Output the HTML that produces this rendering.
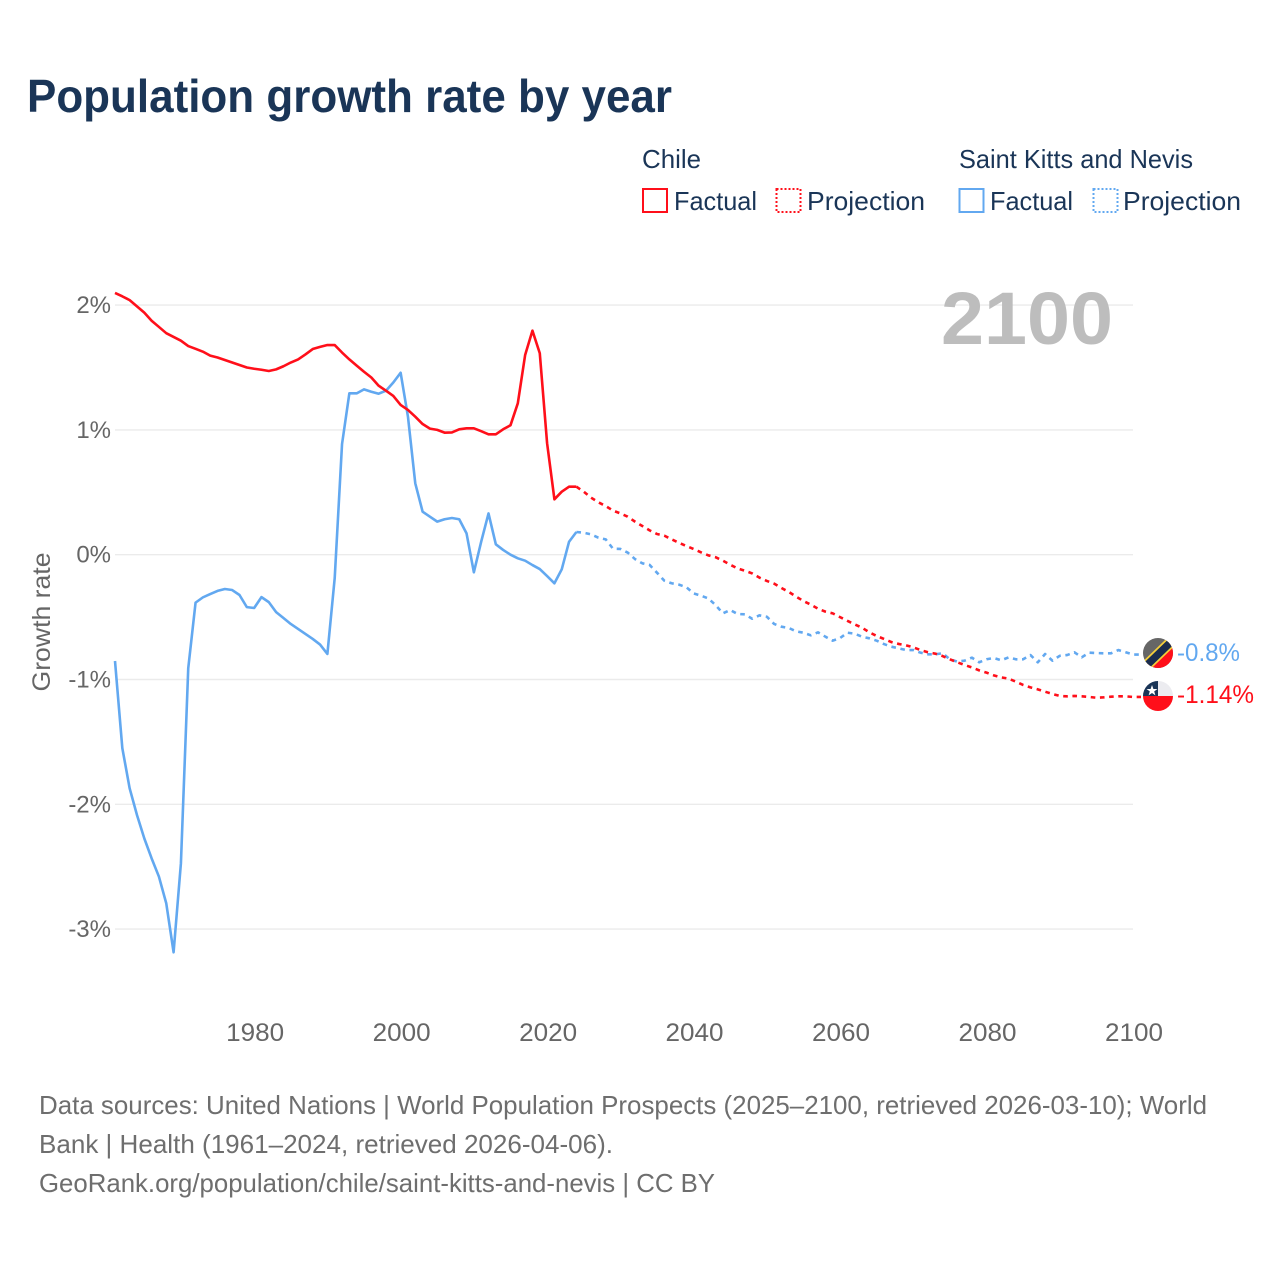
<!DOCTYPE html>
<html lang="en">
<head>
<meta charset="utf-8">
<title>Population growth rate by year</title>
<style>
html,body{margin:0;padding:0;background:#fff;width:1280px;height:1280px;overflow:hidden}
svg{display:block}
text{font-family:"Liberation Sans",sans-serif}
</style>
</head>
<body>
<svg id="chart" xmlns="http://www.w3.org/2000/svg" width="1280" height="1280" viewBox="0 0 1280 1280">
  <defs>
    <clipPath id="clip-kitts"><circle cx="1158" cy="653" r="15"/></clipPath>
    <clipPath id="clip-chile"><circle cx="1158" cy="696" r="15"/></clipPath>
  </defs>
  <rect x="0" y="0" width="1280" height="1280" fill="#fff"/>
  <text x="27" y="112" font-size="46" font-weight="700" fill="#1a3557" textLength="645" lengthAdjust="spacingAndGlyphs">Population growth rate by year</text>

  <g font-size="26" fill="#1a3557">
    <text x="642" y="168" textLength="59" lengthAdjust="spacingAndGlyphs">Chile</text>
    <rect x="643" y="189" width="24" height="23" fill="none" stroke="#ff0f1a" stroke-width="2"/>
    <text x="674" y="210" textLength="83" lengthAdjust="spacingAndGlyphs">Factual</text>
    <rect x="776.5" y="189" width="24" height="23" fill="none" stroke="#ff0f1a" stroke-width="2" stroke-dasharray="2 2"/>
    <text x="807" y="210" textLength="118" lengthAdjust="spacingAndGlyphs">Projection</text>
    <text x="959" y="168" textLength="234" lengthAdjust="spacingAndGlyphs">Saint Kitts and Nevis</text>
    <rect x="959.5" y="189" width="24" height="23" fill="none" stroke="#62a8f0" stroke-width="2"/>
    <text x="990" y="210" textLength="83" lengthAdjust="spacingAndGlyphs">Factual</text>
    <rect x="1093.5" y="189" width="24" height="23" fill="none" stroke="#62a8f0" stroke-width="2" stroke-dasharray="2 2"/>
    <text x="1123" y="210" textLength="118" lengthAdjust="spacingAndGlyphs">Projection</text>
  </g>

  <g id="grid"></g>
  <g id="yticks" font-size="24" fill="#666" text-anchor="end"></g>
  <g id="xticks" font-size="25" fill="#666" text-anchor="middle"></g>
  <text transform="translate(50,622) rotate(-90)" font-size="25" fill="#666" text-anchor="middle" textLength="139" lengthAdjust="spacingAndGlyphs">Growth rate</text>
  <text x="1113" y="344" font-size="74" font-weight="700" fill="#bdbdbd" text-anchor="end" textLength="172" lengthAdjust="spacingAndGlyphs">2100</text>

  <g id="series"></g>

  <g clip-path="url(#clip-kitts)">
    <rect x="1143" y="638" width="30" height="30" fill="#666"/>
    <polygon points="1173,638 1173,668 1143,668" fill="#ff0f1a"/>
    <line x1="1145" y1="667" x2="1173" y2="640" stroke="#f5cf3a" stroke-width="11"/>
    <line x1="1145" y1="667" x2="1173" y2="640" stroke="#1a2c4e" stroke-width="7.5"/>
  </g>
  <g clip-path="url(#clip-chile)">
    <rect x="1143" y="681" width="30" height="15" fill="#ececf0"/>
    <rect x="1143" y="681" width="15" height="15" fill="#1a3557"/>
    <rect x="1143" y="696" width="30" height="15" fill="#ff0f1a"/>
    <polygon points="1152,685 1153.4,689 1157.5,689 1154.2,691.4 1155.4,695.4 1152,693 1148.6,695.4 1149.8,691.4 1146.5,689 1150.6,689" fill="#fff"/>
  </g>
  <text x="1177" y="661" font-size="25" fill="#62a8f0" textLength="63" lengthAdjust="spacingAndGlyphs">-0.8%</text>
  <text x="1177" y="703" font-size="25" fill="#ff0f1a" textLength="77" lengthAdjust="spacingAndGlyphs">-1.14%</text>

  <g font-size="26" fill="#6e6e6e">
    <text x="39" y="1114" textLength="1168" lengthAdjust="spacingAndGlyphs">Data sources: United Nations | World Population Prospects (2025–2100, retrieved 2026-03-10); World</text>
    <text x="39" y="1153" textLength="574" lengthAdjust="spacingAndGlyphs">Bank | Health (1961–2024, retrieved 2026-04-06).</text>
    <text x="39" y="1192" textLength="676" lengthAdjust="spacingAndGlyphs">GeoRank.org/population/chile/saint-kitts-and-nevis | CC BY</text>
  </g>
</svg>
<script>
var yTickValues = [2, 1, 0, -1, -2, -3];
var yTickLabels = ["2%", "1%", "0%", "-1%", "-2%", "-3%"];
var xTickYears = [1980, 2000, 2020, 2040, 2060, 2080, 2100];
var xTickLabels = ["1980", "2000", "2020", "2040", "2060", "2080", "2100"];

var factualStartYear = 1961;
var projectionStartYear = 2024;

var chileFactual = [2.097, 2.07, 2.04, 1.99, 1.94, 1.875, 1.825, 1.775, 1.745, 1.715, 1.672, 1.65, 1.627, 1.595, 1.58, 1.56, 1.54, 1.52, 1.5, 1.49, 1.482, 1.472, 1.485, 1.51, 1.54, 1.565, 1.605, 1.648, 1.665, 1.68, 1.68, 1.62, 1.565, 1.515, 1.466, 1.42, 1.354, 1.314, 1.272, 1.2, 1.16, 1.106, 1.047, 1.01, 1.0, 0.978, 0.98, 1.005, 1.013, 1.013, 0.99, 0.965, 0.965, 1.005, 1.037, 1.213, 1.6, 1.795, 1.614, 0.893, 0.444, 0.505, 0.545, 0.545];

var chileProjection = [0.545, 0.505, 0.457, 0.42, 0.39, 0.353, 0.331, 0.305, 0.265, 0.23, 0.195, 0.166, 0.153, 0.123, 0.096, 0.07, 0.046, 0.019, -0.005, -0.02, -0.048, -0.08, -0.11, -0.128, -0.15, -0.184, -0.21, -0.232, -0.267, -0.298, -0.336, -0.371, -0.4, -0.433, -0.456, -0.47, -0.5, -0.53, -0.558, -0.585, -0.622, -0.651, -0.675, -0.7, -0.715, -0.726, -0.742, -0.764, -0.782, -0.793, -0.812, -0.838, -0.862, -0.884, -0.903, -0.927, -0.945, -0.967, -0.983, -0.993, -1.017, -1.044, -1.063, -1.079, -1.098, -1.116, -1.132, -1.135, -1.132, -1.135, -1.14, -1.146, -1.143, -1.138, -1.135, -1.135, -1.14];

var kittsFactual = [-0.852, -1.55, -1.872, -2.086, -2.273, -2.433, -2.58, -2.794, -3.186, -2.473, -0.91, -0.384, -0.342, -0.315, -0.29, -0.275, -0.283, -0.323, -0.42, -0.427, -0.34, -0.38, -0.46, -0.507, -0.555, -0.595, -0.635, -0.675, -0.72, -0.795, -0.187, 0.887, 1.293, 1.293, 1.325, 1.306, 1.29, 1.314, 1.38, 1.458, 1.106, 0.572, 0.345, 0.305, 0.265, 0.284, 0.294, 0.284, 0.171, -0.141, 0.104, 0.331, 0.083, 0.038, 0, -0.029, -0.048, -0.083, -0.115, -0.171, -0.229, -0.117, 0.104, 0.182];

var kittsProjection = [0.182, 0.176, 0.163, 0.136, 0.123, 0.048, 0.046, 0.017, -0.035, -0.069, -0.082, -0.144, -0.208, -0.229, -0.24, -0.26, -0.31, -0.328, -0.35, -0.403, -0.47, -0.443, -0.475, -0.478, -0.513, -0.486, -0.497, -0.555, -0.577, -0.587, -0.614, -0.625, -0.646, -0.622, -0.657, -0.689, -0.668, -0.625, -0.633, -0.657, -0.67, -0.689, -0.716, -0.737, -0.75, -0.764, -0.764, -0.785, -0.798, -0.798, -0.79, -0.838, -0.857, -0.849, -0.825, -0.862, -0.838, -0.828, -0.846, -0.823, -0.838, -0.838, -0.804, -0.862, -0.796, -0.849, -0.81, -0.804, -0.782, -0.822, -0.785, -0.788, -0.79, -0.79, -0.764, -0.782, -0.8];

var SVG_NS = "http://www.w3.org/2000/svg";

function xScale(year) {
  return 115 + (year - 1961) * (1133 - 115) / (2100 - 1961);
}
function yScale(value) {
  return 554.7 - value * 124.8;
}
function linePath(startYear, values, extendEnd) {
  var d = "";
  for (var i = 0; i < values.length; i++) {
    d += (i === 0 ? "M" : "L") + xScale(startYear + i).toFixed(2) + " " + yScale(values[i]).toFixed(2);
  }
  if (extendEnd) {
    d += "L" + (xScale(startYear + values.length - 1) + 8).toFixed(2) + " " + yScale(values[values.length - 1]).toFixed(2);
  }
  return d;
}

var gridGroup = document.getElementById("grid");
var yTickGroup = document.getElementById("yticks");
yTickValues.forEach(function (v, i) {
  var gl = document.createElementNS(SVG_NS, "line");
  gl.setAttribute("x1", 115);
  gl.setAttribute("x2", 1133);
  gl.setAttribute("y1", yScale(v));
  gl.setAttribute("y2", yScale(v));
  gl.setAttribute("stroke", "#ebebeb");
  gl.setAttribute("stroke-width", "1.4");
  
  
  gridGroup.appendChild(gl);

  var t = document.createElementNS(SVG_NS, "text");
  t.setAttribute("x", 111);
  t.setAttribute("y", yScale(v) + 8);
  t.textContent = yTickLabels[i];
  
  
  yTickGroup.appendChild(t);
});

var xTickGroup = document.getElementById("xticks");
xTickYears.forEach(function (yr, i) {
  var t = document.createElementNS(SVG_NS, "text");
  t.setAttribute("x", xScale(yr) + 1);
  t.setAttribute("y", 1041);
  t.setAttribute("textLength", "58");
  t.setAttribute("lengthAdjust", "spacingAndGlyphs");
  t.textContent = xTickLabels[i];
  
  
  xTickGroup.appendChild(t);
});

var seriesGroup = document.getElementById("series");
function addLine(startYear, values, color, dashed, name) {
  var p = document.createElementNS(SVG_NS, "path");
  p.setAttribute("d", linePath(startYear, values, dashed));
  p.setAttribute("fill", "none");
  p.setAttribute("stroke", color);
  p.setAttribute("stroke-width", "2.6");
  p.setAttribute("stroke-linejoin", "round");
  if (dashed) {
    p.setAttribute("stroke-dasharray", "4.6 4.6");
  }
  
  
  seriesGroup.appendChild(p);
}
addLine(projectionStartYear, kittsProjection, "#62a8f0", true, "line-kitts-projection");
addLine(factualStartYear, kittsFactual, "#62a8f0", false, "line-kitts-factual");
addLine(projectionStartYear, chileProjection, "#ff0f1a", true, "line-chile-projection");
addLine(factualStartYear, chileFactual, "#ff0f1a", false, "line-chile-factual");
</script>
</body>
</html>
